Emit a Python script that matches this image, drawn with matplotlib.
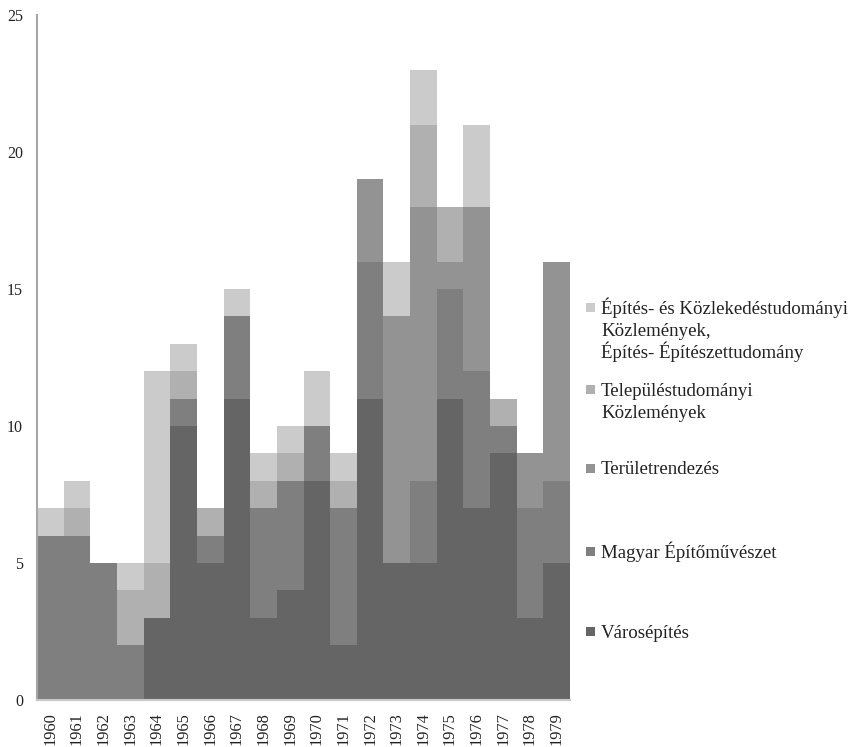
import matplotlib
matplotlib.use("Agg")
import matplotlib.pyplot as plt
from matplotlib.patches import Rectangle
import numpy as np

years = [str(y) for y in range(1960, 1980)]

series_names = [
    "Városépítés",
    "Magyar Építőművészet",
    "Területrendezés",
    "Településtudományi\nKözlemények",
    "Építés- és Közlekedéstudományi\nKözlemények,\nÉpítés- Építészettudomány",
]
varosepites = [0, 0, 0, 0, 3, 10, 5, 11, 3, 4, 8, 2, 11, 5, 5, 11, 7, 9, 3, 5]
magyar_epitomuveszet = [6, 6, 5, 2, 0, 1, 1, 3, 4, 4, 2, 5, 5, 0, 3, 4, 5, 1, 4, 3]
teruletrendezes = [0, 0, 0, 0, 0, 0, 0, 0, 0, 0, 0, 0, 3, 9, 10, 1, 6, 0, 2, 8]
telepulestudomanyi = [0, 1, 0, 2, 2, 1, 1, 0, 1, 1, 0, 1, 0, 0, 3, 2, 0, 1, 0, 0]
epites_kozlekedes = [1, 1, 0, 1, 7, 1, 0, 1, 1, 1, 2, 1, 0, 2, 2, 0, 3, 0, 0, 0]

series_values = [varosepites, magyar_epitomuveszet, teruletrendezes,
                 telepulestudomanyi, epites_kozlekedes]
colors = ["#656565", "#7f7f7f", "#939393", "#b0b0b0", "#cbcbcb"]

y_ticks = [0, 5, 10, 15, 20, 25]

plt.rcParams["font.family"] = ["Liberation Serif", "DejaVu Serif"]

fig = plt.figure(figsize=(8.51, 7.47), dpi=100)
ax = fig.add_axes([37 / 851, 1 - 700 / 747, (570 - 37) / 851, (700 - 15) / 747])

x = np.arange(len(years))
bottom = np.zeros(len(years))
for vals, col, name in zip(series_values, colors, series_names):
    ax.bar(x, vals, width=1.0, bottom=bottom, color=col, linewidth=0, label=name)
    bottom += np.array(vals)

ax.set_xlim(-0.5, len(years) - 0.5)
ax.set_ylim(0, 25)
ax.set_yticks(y_ticks)
ax.set_yticklabels([str(t) for t in y_ticks])
ax.set_xticks(x)
ax.set_xticklabels(years, rotation=90)
ax.tick_params(axis="y", length=0, pad=10, labelsize=11.5, colors="#222222")
ax.tick_params(axis="x", length=0, pad=9, labelsize=11.8, colors="#222222")
for s in ["top", "right"]:
    ax.spines[s].set_visible(False)
ax.spines["left"].set_color("#a6a6a6")
ax.spines["left"].set_linewidth(1.5)
ax.spines["bottom"].set_color("#c8c8c8")
ax.spines["bottom"].set_linewidth(1.5)

# legend (top entry first), square aligned with first line of each label
legend_y_px = [631, 551, 468, 389, 307.5]
line_step_px = 22
for name, col, ypx in zip(series_names, colors, legend_y_px):
    yf = 1 - ypx / 747
    fig.patches.append(Rectangle((586 / 851, yf - 4.5 / 747), 9 / 851, 9 / 747,
                                 transform=fig.transFigure, facecolor=col,
                                 edgecolor="none"))
    for k, line in enumerate(name.split("\n")):
        fig.text(601 / 851, yf - (6.5 + k * line_step_px) / 747, line,
                 ha="left", va="baseline", fontsize=13.6, color="#222222")

fig.savefig("out.png", dpi=100)
